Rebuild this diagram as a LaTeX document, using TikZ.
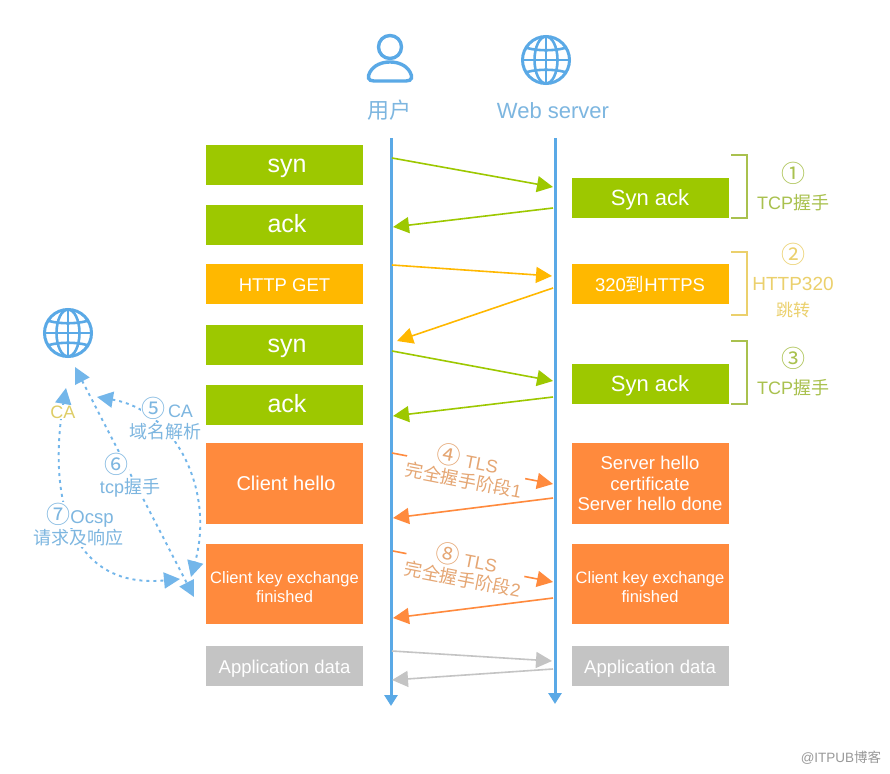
\documentclass[tikz,border=0pt]{standalone}
\usepackage{fontspec}
\setmainfont{Liberation Sans}
\newfontfamily\cjk{Noto Sans CJK SC}
\usetikzlibrary{positioning,arrows.meta}
\definecolor{boxgreen}{HTML}{9DC800}
\definecolor{boxyellow}{HTML}{FFB800}
\definecolor{boxorange}{HTML}{FF8A3D}
\definecolor{boxgrey}{HTML}{C4C4C4}
\definecolor{lineblue}{HTML}{5AA9E6}
\definecolor{textblue}{HTML}{7DB6E0}
\definecolor{textolive}{HTML}{A9C14E}
\definecolor{textyellow}{HTML}{EBD06C}
\definecolor{texttan}{HTML}{E5A673}
\newcommand{\fsz}[1]{\fontsize{#1}{#1}\selectfont}
\tikzset{
  globe/.pic={
    \draw[line width=3pt,lineblue] (0,0) circle (23.5);
    \draw[line width=2.6pt,lineblue] (0,0) ellipse (11.5 and 23.5);
    \draw[line width=2.6pt,lineblue] (0,-23.5) -- (0,23.5);
    \draw[line width=2.6pt,lineblue] (-23.5,0) -- (23.5,0);
    \draw[line width=2.6pt,lineblue] (-19,-12) .. controls (-8,-9) and (8,-9) .. (19,-12);
    \draw[line width=2.6pt,lineblue] (-19,12) .. controls (-8,9) and (8,9) .. (19,12);
  },
}
\begin{document}
\begin{tikzpicture}[x=1pt,y=-1pt,
    box/.style={minimum width=157pt,minimum height=40pt,inner sep=0pt,outer sep=0pt,text=white,align=center,font=\fsz{18.5}},
    oneline/.style={text height=14pt,text depth=0pt},
    bigword/.style={oneline,font=\fsz{25}},
    greenbox/.style={box,fill=boxgreen},
    yellowbox/.style={box,fill=boxyellow},
    orangebox/.style={box,fill=boxorange},
    greybox/.style={box,fill=boxgrey,text=white},
    life/.style={line width=3pt,lineblue,-{Triangle[length=11pt,width=13pt]}},
    msg/.style={line width=1.6pt,-{Triangle[length=16pt,width=16pt]}},
    dashcurve/.style={line width=1.9pt,lineblue!85,dash pattern=on 3pt off 4pt,{Triangle[length=16pt,width=16pt]}-{Triangle[length=16pt,width=16pt]}},
    bracket/.style={line width=1.5pt},
    note/.style={inner sep=0.5pt,fill=white,text=textblue,font=\fsz{18}},
    tag/.style={inner sep=0pt,font=\fsz{18}},
  ] %
  \useasboundingbox[fill=white] (0,0) rectangle (890,773);

  % user and server heads
  \draw[line width=3.4pt,lineblue] (390,47) circle (11.5);
  \draw[line width=3.4pt,lineblue] (374,81) .. controls (368,81) and (367,77) .. (370,72) .. controls (374,65) and (382,62) .. (390,62) .. controls (398,62) and (406,65) .. (410,72) .. controls (413,77) and (412,81) .. (406,81) -- cycle;
  \pic at (546,60) {globe};
  \pic at (68,333) {globe};
  \node[inner sep=0pt,text=textblue,font=\fsz{22}\cjk] (usertitle) at (389,110) {用户};
  \node[inner sep=0pt,text=textblue,font=\fsz{22}] (servertitle) at (553,111) {Web server};

  % life lines
  \coordinate (usertop) at (391,138);
  \coordinate (userend) at (391,706);
  \coordinate (servertop) at (555,138);
  \coordinate (serverend) at (555,704);
  \draw[life] (usertop) -- (userend);
  \draw[life] (servertop) -- (serverend);

  % left column
  \node[greenbox,bigword] (syna) at (284.5,165) {\hspace*{5pt}syn};
  \node[greenbox,bigword,below=20pt of syna] (acka) {\hspace*{5pt}ack};
  \node[yellowbox,oneline,below=19pt of acka] (get) {HTTP GET};
  \node[greenbox,bigword,below=21pt of get] (synb) {\hspace*{5pt}syn};
  \node[greenbox,bigword,below=20pt of synb] (ackb) {\hspace*{5pt}ack};
  \node[orangebox,oneline,font=\fsz{20},minimum height=81pt,below=18pt of ackb] (chello) {\hspace*{3pt}Client hello};
  \node[orangebox,font=\fsz{16.5},minimum height=80pt,below=20pt of chello] (ckey) {\rule{0pt}{18pt}Client key exchange\\[2pt]finished};
  \node[greybox,oneline,below=22pt of ckey] (appl) {Application data};

  % right column
  \node[greenbox,oneline,text height=15pt,font=\fsz{22}] (sacka) at (650,198) {Syn ack};
  \node[yellowbox,oneline,below=46pt of sacka] (redir) {320{\cjk 到}HTTPS};
  \node[greenbox,oneline,text height=15pt,font=\fsz{22},below=60pt of redir] (sackb) {Syn ack};
  \node[orangebox,minimum height=81pt,below=39pt of sackb] (shello) {Server hello\\[2pt]certificate\\[2pt]Server hello done};
  \node[orangebox,font=\fsz{16.5},minimum height=80pt,below=20pt of shello] (skey) {\rule{0pt}{18pt}Client key exchange\\[2pt]finished};
  \node[greybox,oneline,below=22pt of skey] (appr) {Application data};

  % messages
  \coordinate (ma) at (392,158);   \coordinate (mb) at (553,187);
  \coordinate (mc) at (553,208);   \coordinate (md) at (393,227);
  \coordinate (me) at (392,265);   \coordinate (mf) at (552,276);
  \coordinate (mg) at (553,288);   \coordinate (mh) at (397,341);
  \coordinate (mi) at (392,351);   \coordinate (mj) at (553,381);
  \coordinate (mk) at (553,397);   \coordinate (ml) at (393,416);
  \coordinate (mm) at (392,453);   \coordinate (mn) at (553,484);
  \coordinate (mo) at (553,498);   \coordinate (mp) at (393,518);
  \coordinate (mq) at (393,551);   \coordinate (mr) at (553,582);
  \coordinate (ms) at (553,598);   \coordinate (mt) at (393,618);
  \coordinate (mu) at (392,651);   \coordinate (mv) at (552,661);
  \coordinate (mw) at (553,669);   \coordinate (mx) at (392,680);
  \draw[msg,boxgreen] (ma) -- (mb);
  \draw[msg,boxgreen] (mc) -- (md);
  \draw[msg,boxyellow] (me) -- (mf);
  \draw[msg,boxyellow] (mg) -- (mh);
  \draw[msg,boxgreen] (mi) -- (mj);
  \draw[msg,boxgreen] (mk) -- (ml);
  \draw[msg,boxorange] (mm) -- (mn);
  \draw[msg,boxorange] (mo) -- (mp);
  \draw[msg,boxorange] (mq) -- (mr);
  \draw[msg,boxorange] (ms) -- (mt);
  \draw[msg,boxgrey] (mu) -- (mv);
  \draw[msg,boxgrey] (mw) -- (mx);

  % labels over the TLS messages
  \node[fill=white,inner sep=1pt,text=texttan,rotate=-11,align=center,font=\fsz{18}] (tlsa) at (466,468) {{\fsz{24}\cjk ④} TLS\\[2pt]{\cjk 完全握手阶段}1};
  \node[fill=white,inner sep=1pt,text=texttan,rotate=-11,align=center,font=\fsz{18}] (tlsb) at (465,567) {{\fsz{24}\cjk ⑧} TLS\\[2pt]{\cjk 完全握手阶段}2};

  % brackets and their labels
  \draw[bracket,textolive] (731,155) -- (747,155) -- (747,218) -- (731,218);
  \draw[bracket,textyellow] (731,252) -- (747,252) -- (747,315) -- (731,315);
  \draw[bracket,textolive] (731,341) -- (747,341) -- (747,404) -- (731,404);
  \node[tag,text=textolive,font=\fsz{24}\cjk] (numa) at (793,173) {①};
  \node[tag,text=textolive] (tcpa) at (793,203) {TCP{\cjk 握手}};
  \node[tag,text=textyellow,font=\fsz{24}\cjk] (numb) at (793,254) {②};
  \node[tag,text=textyellow,font=\fsz{19}] (httpc) at (793,284) {HTTP320};
  \node[tag,text=textyellow,font=\fsz{17}\cjk] (jump) at (793,310) {跳转};
  \node[tag,text=textolive,font=\fsz{24}\cjk] (numc) at (793,358) {③};
  \node[tag,text=textolive] (tcpb) at (793,388) {TCP{\cjk 握手}};

  % CA side
  \coordinate (cadns) at (97,397);   \coordinate (dnsend) at (191,577);
  \coordinate (catcp) at (75,367);   \coordinate (tcpend) at (194,597);
  \coordinate (caocsp) at (66,388);  \coordinate (ocspend) at (180,579);
  \draw[dashcurve] (cadns) .. controls (175,410) and (215,490) .. (dnsend);
  \draw[dashcurve] (catcp) -- (tcpend);
  \draw[dashcurve] (caocsp) .. controls (50,480) and (60,590) .. (ocspend);
  \node[note,text=textyellow!80!textolive] (calabel) at (63,412) {CA};
  \node[note] (dnsa) at (167,408) {{\fsz{24}\cjk ⑤}\,CA};
  \node[note,font=\fsz{18}\cjk] (dnsb) at (165,432) {域名解析};
  \node[note,font=\fsz{24}\cjk] (tcpnum) at (116,464) {⑥};
  \node[note] (tcplabel) at (130,488) {tcp{\cjk 握手}};
  \node[note,font=\fsz{18.5}] (ocspa) at (80,515) {{\fsz{24}\cjk ⑦}Ocsp};
  \node[note,font=\fsz{18}\cjk] (ocspb) at (78,538) {请求及响应};

  \node[inner sep=0pt,text=black!40,font=\fsz{13.5}] (mark) at (841,758) {@ITPUB{\cjk 博客}};
\end{tikzpicture}
\end{document}
